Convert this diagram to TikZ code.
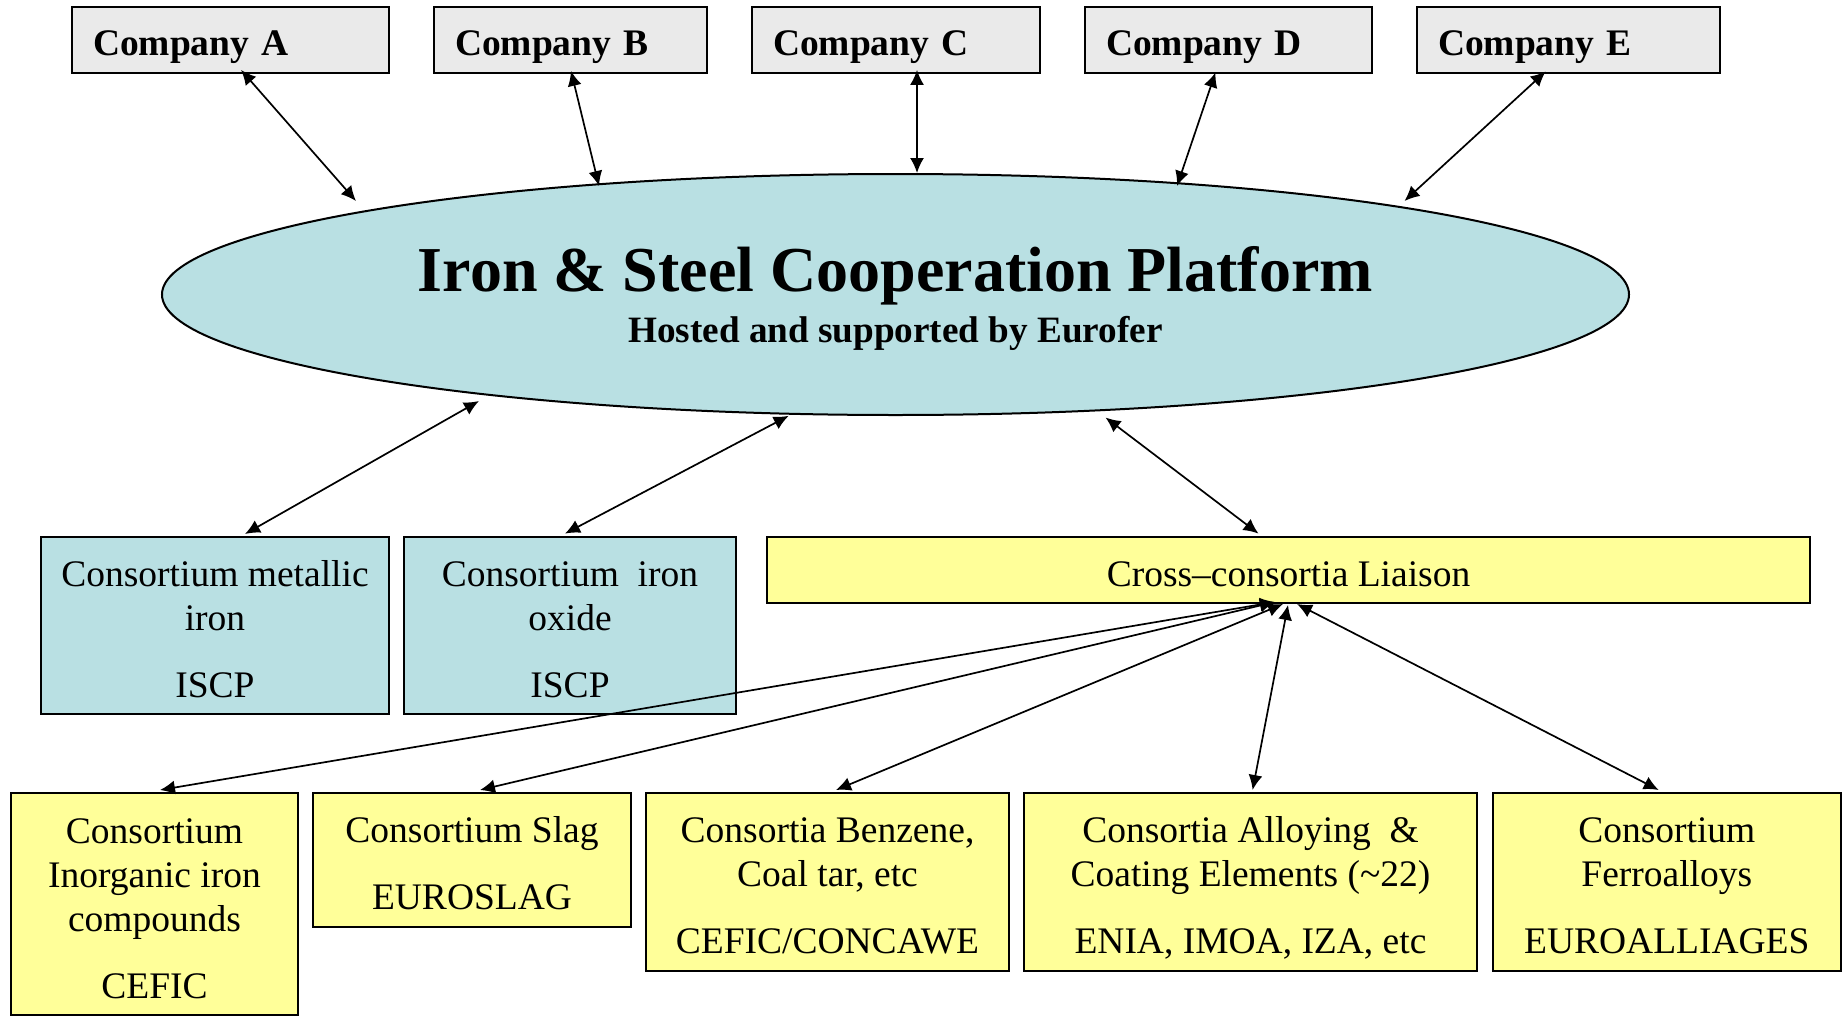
\documentclass[tikz,border=0pt]{standalone}
\usepackage{fontspec}
\setmainfont{Liberation Serif}
\usetikzlibrary{arrows.meta,shapes.geometric,calc}
\definecolor{boxgray}{RGB}{234,234,234}
\definecolor{boxblue}{RGB}{185,224,227}
\definecolor{boxyellow}{RGB}{255,255,153}
\newcommand\mytopstrut{\rule{0pt}{38pt}}
\newcommand\mybotstrut{\rule[-5pt]{0pt}{5pt}}
\begin{document}
\begin{tikzpicture}[x=1pt,y=-1pt,
  box/.style={draw=black, line width=2pt, rectangle, inner sep=0pt, align=center,
    font=\fontsize{37.5}{44}\selectfont},
  company/.style={draw=black, line width=2pt, fill=boxgray, rectangle, inner xsep=21pt,
    inner ysep=0pt, minimum height=66pt, text width=#1, align=left,
    text height=29.2pt, text depth=0pt, font=\fontsize{37.5}{44}\selectfont\bfseries},
  link/.style={<->, line width=1.7pt, >={Latex[length=15pt,width=14pt]}},
]
\useasboundingbox (0,0) rectangle (1846,1017);

% companies
\node[company=275pt]   (cA) at (230.5,40.4)  {Company A};
\node[company=231pt]   (cB) at (570.5,40.4)  {Company B};
\node[company=245.5pt] (cC) at (895.75,40.4) {Company C};
\node[company=244.5pt] (cD) at (1228.25,40.4){Company D};
\node[company=261pt]   (cE) at (1568.5,40.4) {Company E};

% platform
\node[draw=black, line width=2pt, fill=boxblue, ellipse, minimum width=1467pt,
  minimum height=241pt, inner sep=0pt] (isc) at (895.5,294.5) {};
\node[anchor=base, font=\fontsize{64}{70}\selectfont\bfseries] (title)
  at ($(isc.center)+(0,-3)$) {Iron \& Steel Cooperation Platform};
\node[anchor=base, font=\fontsize{37.2}{44}\selectfont\bfseries] (sub)
  at ($(isc.center)+(0,48)$) {Hosted and supported by Eurofer};

% middle row
\node[box, fill=boxblue, minimum width=348pt, minimum height=177.4pt] (b1)
  at (215,625.3) {\mytopstrut Consortium metallic\\ iron\\[23pt] ISCP\mybotstrut};
\node[box, fill=boxblue, minimum width=332pt, minimum height=177.4pt] (b2)
  at (570,625.3) {\mytopstrut Consortium\ \ iron\\ oxide\\[23pt] ISCP\mybotstrut};
\node[box, fill=boxyellow, minimum width=1043pt, minimum height=66.2pt] (cross)
  at (1288.5,569.7) {\mytopstrut Cross–consortia Liaison\mybotstrut};

% bottom row
\node[box, fill=boxyellow, minimum width=287.8pt, minimum height=222pt] (y1)
  at (154.5,904) {\mytopstrut Consortium\\ Inorganic iron\\ compounds\\[23pt] CEFIC\mybotstrut};
\node[box, fill=boxyellow, minimum width=318pt, minimum height=133.5pt] (y2)
  at (472,859.75) {\mytopstrut Consortium Slag\\[23pt] EUROSLAG\mybotstrut};
\node[box, fill=boxyellow, minimum width=363pt, minimum height=177.7pt] (y3)
  at (827.5,881.85) {\mytopstrut Consortia Benzene,\\ Coal tar, etc\\[23pt] CEFIC/CONCAWE\mybotstrut};
\node[box, fill=boxyellow, minimum width=453pt, minimum height=177.7pt] (y4)
  at (1250.5,881.85) {\mytopstrut Consortia Alloying\ \ \&\\ Coating Elements (\textasciitilde22)\\[23pt] ENIA, IMOA, IZA, etc\mybotstrut};
\node[box, fill=boxyellow, minimum width=347.6pt, minimum height=177.7pt] (y5)
  at (1666.8,881.85) {\mytopstrut Consortium\\ Ferroalloys\\[23pt] EUROALLIAGES\mybotstrut};

% company links
\draw[link] ($(cA.south)+(10.5,-4.5)$) -- ($(isc.center)+(-539.5,-93.5)$);
\draw[link] ($(cB.south)+(0.5,-3.5)$) -- ($(isc.center)+(-296.5,-108.5)$);
\draw[link] ($(cC.south)+(21.25,-4.5)$) -- ($(isc.center)+(21.5,-121.5)$);
\draw[link] ($(cD.south)+(-12.75,-2)$) -- ($(isc.center)+(281.5,-108.5)$);
\draw[link] ($(cE.south)+(-22.8,-3)$) -- ($(isc.center)+(509,-93.5)$);

% middle links
\draw[link] ($(isc.center)+(-416.5,106.5)$) -- ($(b1.north)+(30,-1.6)$);
\draw[link] ($(isc.center)+(-106.8,121.3)$) -- ($(b2.north)+(-5,-2)$);
\draw[link] ($(isc.center)+(210,123)$) -- ($(cross.north)+(-30,-2)$);

% bottom links
\draw[link] ($(cross.south)+(-13.5,-1.8)$) -- ($(y1.north)+(5.5,-2)$);
\draw[link] ($(cross.south)+(-13.5,-1.8)$) -- ($(y2.north)+(8,-2)$);
\draw[link] ($(cross.south)+(-5.5,0.2)$) -- ($(y3.north)+(8.5,-2)$);
\draw[link] ($(cross.south)+(-0.5,1.2)$) -- ($(y4.north)+(2.1,-2)$);
\draw[link] ($(cross.south)+(8.5,0.2)$) -- ($(y5.north)+(-8.1,-2)$);
\end{tikzpicture}
\end{document}
